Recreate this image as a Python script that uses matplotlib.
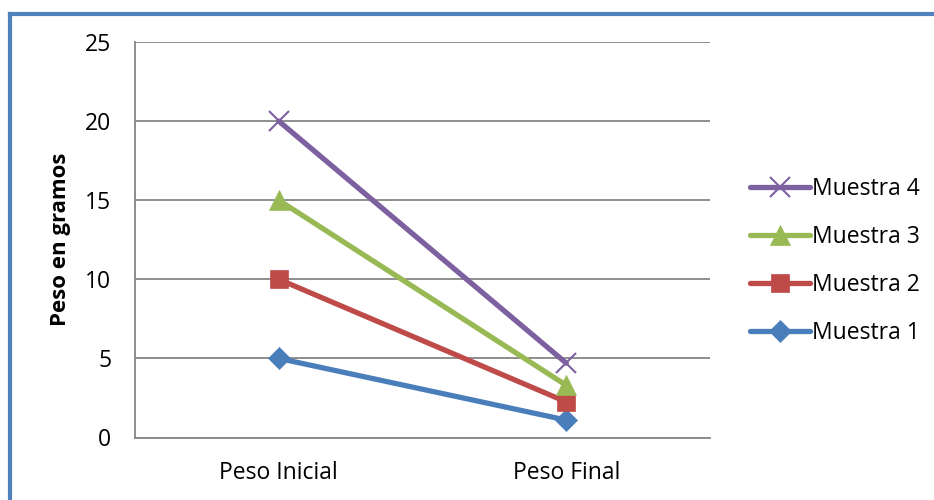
import matplotlib
matplotlib.use('Agg')
import matplotlib.pyplot as plt
from matplotlib.lines import Line2D

plt.rcParams['font.family'] = ['Open Sans', 'DejaVu Sans']

# Datos
categorias = ['Peso Inicial', 'Peso Final']
muestra1 = [5, 1.1]
muestra2 = [10, 2.25]
muestra3 = [15, 3.3]
muestra4 = [20, 4.7]

series = [
    ('Muestra 1', muestra1, '#4A7EBB', 'D', 11),
    ('Muestra 2', muestra2, '#BE4B48', 's', 13),
    ('Muestra 3', muestra3, '#98B954', '^', 14),
    ('Muestra 4', muestra4, '#7D60A0', 'x', 14),
]

fig = plt.figure(figsize=(9.34, 5), dpi=100)
ax = fig.add_axes([135/934, 1 - 437.5/500, 575/934, 395.5/500])

x = range(len(categorias))
for nombre, vals, col, mk, ms in series:
    ax.plot(x, vals, color=col, lw=3.8, marker=mk, markersize=ms,
            markeredgewidth=1.5 if mk == 'x' else 0.5, markeredgecolor=col,
            markerfacecolor=col, label=nombre, solid_capstyle='round', zorder=3)

ax.set_xlim(-0.5, 1.5)
ax.set_ylim(0, 25)
ax.set_yticks([0, 5, 10, 15, 20, 25])
ax.set_xticks(list(x))
ax.set_xticklabels(categorias)
ax.tick_params(axis='both', length=0, labelsize=16.5)
ax.tick_params(axis='y', pad=17)
ax.tick_params(axis='x', pad=17)
ax.grid(axis='y', color='#868686', lw=1.3, zorder=0)
for s in ['top', 'right']:
    ax.spines[s].set_visible(False)
for s in ['left', 'bottom']:
    ax.spines[s].set_color('#868686')
    ax.spines[s].set_linewidth(1.3)

ax.set_ylabel('Peso en gramos', fontsize=16, fontweight='bold', labelpad=10)

h, l = ax.get_legend_handles_labels()
leg = fig.legend(h[::-1], l[::-1], loc='center left', bbox_to_anchor=(741/934, 1 - 261/500),
                 frameon=False, fontsize=16.5, handlelength=2.6, handletextpad=0.1,
                 labelspacing=1.05, borderaxespad=0)

# borde azul
fig.add_artist(Line2D([10/934, 1], [1 - 14/500, 1 - 14/500], color='#4F81BD', lw=3, transform=fig.transFigure))
fig.add_artist(Line2D([10/934, 10/934], [0, 1 - 14/500], color='#4F81BD', lw=3, transform=fig.transFigure))

fig.savefig('out.png', dpi=100)
